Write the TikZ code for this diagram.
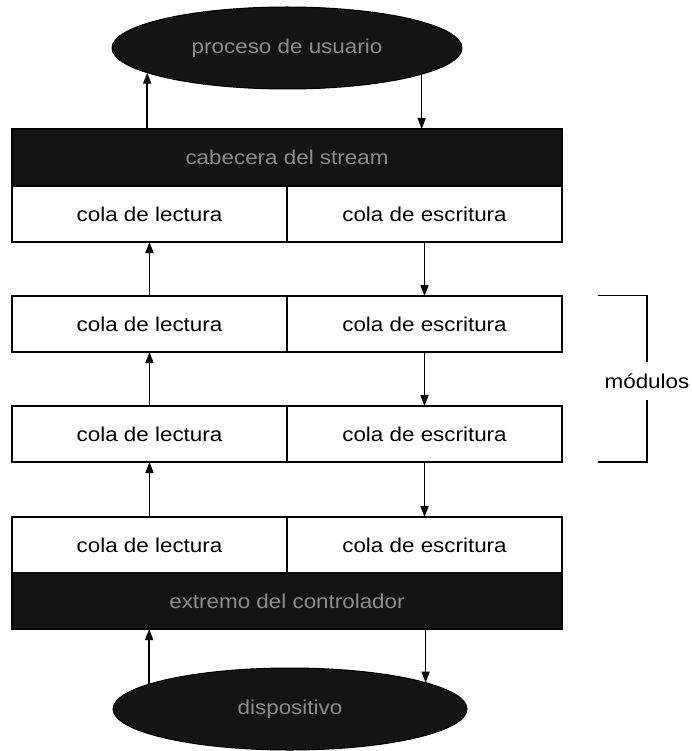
\documentclass[tikz,border=0pt]{standalone}
\usepackage{fontspec}
\setmainfont[FakeStretch=1.12]{Liberation Sans}
\usetikzlibrary{shapes.geometric,arrows.meta}
\begin{document}
\begin{tikzpicture}[x=1pt,y=-1pt,
  lbl/.style={font=\fontsize{20}{22}\selectfont},
  qbox/.style={lbl, draw, line width=1.5pt, fill=white, minimum width=275pt,
    minimum height=56pt, inner sep=0pt, outer sep=0pt},
  darkbar/.style={lbl, draw, line width=1.5pt, fill=black!92, text=black!45,
    minimum width=550pt, minimum height=57pt, inner sep=0pt, outer sep=0pt},
  darkell/.style={lbl, ellipse, draw, line width=1pt, fill=black!92, text=black!45,
    inner sep=0pt, outer sep=0pt},
  arr/.style={line width=1.6pt, -{Triangle[length=11pt,width=8pt]}},
  brk/.style={line width=1.2pt}]
\useasboundingbox (0,0) rectangle (692,751);

% top ellipse
\node[darkell, minimum width=350pt, minimum height=82pt] (proc) at (287,48) {proceso de usuario};

% stream head
\node[darkbar] (head) at (287,157.5) {cabecera del stream};
\node[qbox] (L1) at (149.5,214) {cola de lectura};
\node[qbox] (R1) at (424.5,214) {cola de escritura};

% modules
\node[qbox] (L2) at (149.5,324) {cola de lectura};
\node[qbox] (R2) at (424.5,324) {cola de escritura};
\node[qbox] (L3) at (149.5,434) {cola de lectura};
\node[qbox] (R3) at (424.5,434) {cola de escritura};

% driver end
\node[qbox] (L4) at (149.5,545) {cola de lectura};
\node[qbox] (R4) at (424.5,545) {cola de escritura};
\node[darkbar, minimum height=56pt] (drv) at (287,601) {extremo del controlador};

% bottom ellipse
\node[darkell, minimum width=354pt, minimum height=82pt] (dev) at (290,709) {dispositivo};

% arrows
\draw[arr] (proc.190.5 |- head.north) -- (proc.190.5);
\draw[arr] (proc.349.5) -- (proc.349.5 |- head.north);
\draw[arr] (L2.north) -- (L1.south);
\draw[arr] (R1.south) -- (R2.north);
\draw[arr] (L3.north) -- (L2.south);
\draw[arr] (R2.south) -- (R3.north);
\draw[arr] (L4.north) -- (L3.south);
\draw[arr] (R3.south) -- (R4.north);
\draw[arr] (dev.170) -- (dev.170 |- drv.south);
\draw[arr] (dev.11 |- drv.south) -- (dev.11);

% bracket
\node[lbl, inner xsep=0pt, inner ysep=11pt] (mod) at (647,381) {módulos};
\coordinate (bt) at (598,295.5);
\coordinate (bb) at (598,462);
\draw[brk] (bt) -| (mod.north);
\draw[brk] (bb) -| (mod.south);
\end{tikzpicture}
\end{document}
